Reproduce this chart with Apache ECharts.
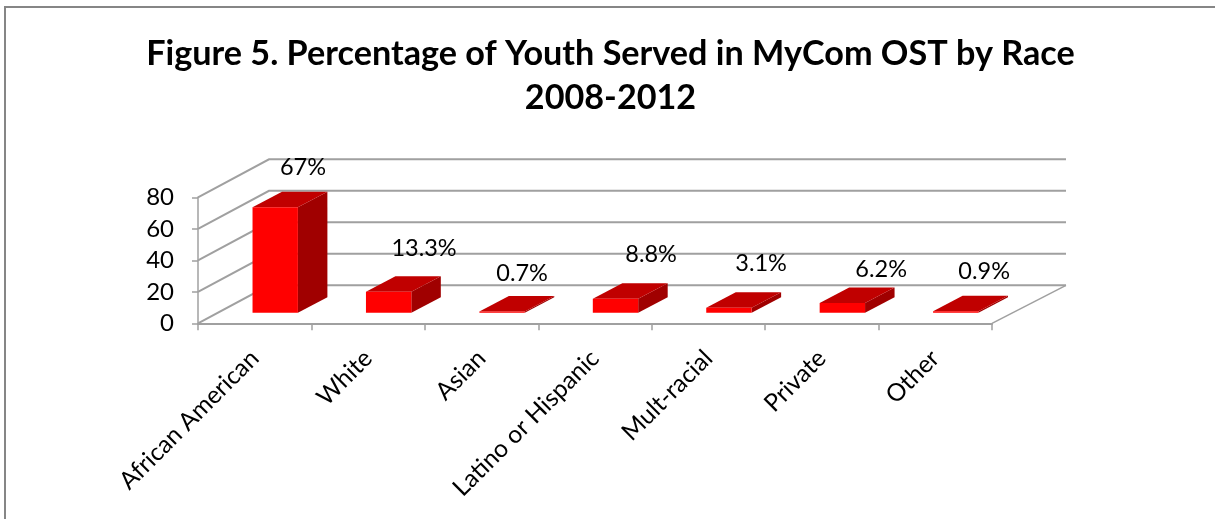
<!DOCTYPE html>
<html>
<head>
<meta charset="utf-8">
<style>html,body{margin:0;padding:0;background:#fff}#c{width:1215px;height:519px}</style>
<script src="https://cdn.jsdelivr.net/npm/echarts@6/dist/echarts.min.js"></script>
</head>
<body>
<div id="c"></div>
<script>
var categories = ['African American','White','Asian','Latino or Hispanic','Mult-racial','Private','Other'];
var percentages = [67, 13.3, 0.7, 8.8, 3.1, 6.2, 0.9];
var percentLabels = ['67%','13.3%','0.7%','8.8%','3.1%','6.2%','0.9%'];
var valueTicks = [0, 20, 40, 60, 80];

// layout of the pseudo-3D box, kept apart from the data
var depthLeft = [71, -38], depthRight = [74, -38];
var barFrac = 0.4;
var barShift = [20.5, -10.6], barDepth = [29.5, -15.5];
// hand-placed data labels, offset from the bar's front-top centre
var labelNudge = [[27.8,-40.2],[35.4,-43.8],[20,-38.6],[35.6,-44.8],[32.2,-44.8],[38.8,-33.9],[28.4,-40.3]];
var GREY = '#a0a0a0', FONT = 'Lato';

var chart = echarts.init(document.getElementById('c'));
chart.setOption({
  backgroundColor: '#fff',
  animation: false,
  title: {
    text: 'Figure 5. Percentage of Youth Served in MyCom OST by Race\n2008-2012',
    left: 605.5, top: 26.5, textAlign: 'center',
    textStyle: {fontFamily: FONT, fontWeight: 'bold', fontSize: 34.2, lineHeight: 44, color: '#000'}
  },
  grid: {left: 198, right: 223, top: 197.3, height: 126},
  xAxis: {
    type: 'category', data: categories,
    axisLine: {show: true, lineStyle: {color: GREY, width: 2}},
    axisTick: {show: true, alignWithLabel: false, length: 7, lineStyle: {color: GREY, width: 1.5}},
    axisLabel: {rotate: 45, interval: 0, margin: 31, fontFamily: FONT, fontSize: 24.5, color: '#000'},
    z: 5
  },
  yAxis: {
    type: 'value', min: 0, max: 80, interval: 20,
    splitLine: {show: false},
    axisLine: {show: true, lineStyle: {color: GREY, width: 1.5}},
    axisTick: {show: true, length: 6, lineStyle: {color: GREY, width: 1.5}},
    axisLabel: {margin: 24, fontFamily: FONT, fontSize: 24, color: '#000'},
    z: 5
  },
  graphic: [
    {type: 'polyline', shape: {points: [[5,519],[5,7],[1215,7]]}, style: {fill: 'none', stroke: '#868686', lineWidth: 2}}
  ],
  series: [
    {
      type: 'custom', name: 'walls', coordinateSystem: 'cartesian2d', clip: false, z: 1, silent: true,
      data: valueTicks.map(function (v) { return [0, v]; }),
      encode: {x: 0, y: 1},
      renderItem: function (params, api) {
        var g = params.coordSys, x0 = g.x, x1 = g.x + g.width, y = api.coord([0, api.value(1)])[1];
        var children = [{
          type: 'polyline',
          shape: {points: [[x0, y], [x0 + depthLeft[0], y + depthLeft[1]], [x1 + depthRight[0], y + depthRight[1]]]},
          style: {fill: 'none', stroke: GREY, lineWidth: 2}
        }];
        if (api.value(1) === 0) {
          children.push({
            type: 'line',
            shape: {x1: x1, y1: y, x2: x1 + depthRight[0], y2: y + depthRight[1]},
            style: {stroke: GREY, lineWidth: 1.5}
          });
        }
        return {type: 'group', children: children};
      }
    },
    {
      type: 'custom', name: 'Percent', coordinateSystem: 'cartesian2d', clip: false, z: 3,
      data: percentages.map(function (v, i) { return [i, v]; }),
      encode: {x: 0, y: 1},
      renderItem: function (params, api) {
        var top = api.coord([api.value(0), api.value(1)]);
        var base = api.coord([api.value(0), 0]);
        var w = api.size([1, 0])[0] * barFrac;
        var l = base[0] + barShift[0] - w / 2, r = l + w;
        var b = base[1] + barShift[1], t = top[1] + barShift[1];
        var dx = barDepth[0], dy = barDepth[1];
        return {type: 'group', children: [
          {type: 'polygon', shape: {points: [[r,b],[r+dx,b+dy],[r+dx,t+dy],[r,t]]}, style: {fill: '#a00000'}},
          {type: 'polygon', shape: {points: [[l,t],[r,t],[r+dx,t+dy],[l+dx,t+dy]]}, style: {fill: '#c00000'}},
          {type: 'rect', shape: {x: l, y: t, width: w, height: b - t}, style: {fill: '#ff0000'}}
        ]};
      }
    },
    {
      type: 'custom', name: 'labels', coordinateSystem: 'cartesian2d', clip: false, z: 4, silent: true,
      data: percentages.map(function (v, i) { return [i, v]; }),
      encode: {x: 0, y: 1},
      renderItem: function (params, api) {
        var i = api.value(0), top = api.coord([i, api.value(1)]);
        return {
          type: 'text',
          style: {
            x: top[0] + barShift[0] + labelNudge[i][0],
            y: top[1] + barShift[1] + labelNudge[i][1],
            text: percentLabels[i], align: 'center', verticalAlign: 'middle',
            fontFamily: FONT, fontSize: 23.5, fill: '#000'
          }
        };
      }
    }
  ]
});
</script>
</body>
</html>
